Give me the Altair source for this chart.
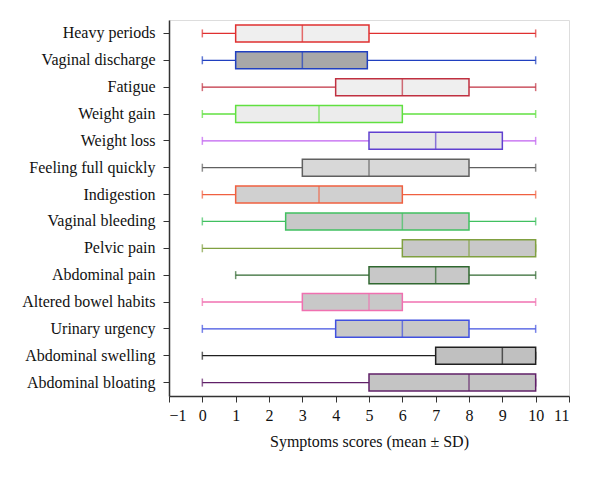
import altair as alt
import pandas as pd

symptoms = ["Heavy periods", "Vaginal discharge", "Fatigue", "Weight gain", "Weight loss",
            "Feeling full quickly", "Indigestion", "Vaginal bleeding", "Pelvic pain",
            "Abdominal pain", "Altered bowel habits", "Urinary urgency",
            "Abdominal swelling", "Abdominal bloating"]
mins = [0, 0, 0, 0, 0, 0, 0, 0, 0, 1, 0, 0, 0, 0]
q1s = [1, 1, 4, 1, 5, 3, 1, 2.5, 6, 5, 3, 4, 7, 5]
medians = [3, 3, 6, 3.5, 7, 5, 3.5, 6, 8, 7, 5, 6, 9, 8]
q3s = [5, 4.95, 8, 6, 9, 8, 6, 8, 10, 8, 6, 8, 10, 10]
maxs = [10, 10, 10, 10, 10, 10, 10, 10, 10, 10, 10, 10, 10, 10]
whisker_colors = ["#e03030", "#2040c0", "#c03040", "#60e040", "#c060f0", "#606060", "#f06040",
                  "#40c060", "#80a040", "#306830", "#f070b0", "#4050e0", "#202020", "#602068"]
box_colors = ["#e03030", "#2040c0", "#c03040", "#60e040", "#6040d0", "#606060", "#f06040",
              "#40c060", "#80a040", "#306830", "#f070b0", "#4050e0", "#202020", "#602068"]
fills = ["#efefef", "#a8a8a8", "#efefef", "#ececec", "#e8e8e8", "#d8d8d8", "#d0d0d0",
         "#c8c8c8", "#c8c8c8", "#c8c8c8", "#c8c8c8", "#c8c8c8", "#c0c0c0", "#c4c4c4"]
x_ticks = list(range(-1, 12))

df = pd.DataFrame({
    "symptom": symptoms, "min": mins, "q1": q1s, "median": medians, "q3": q3s, "max": maxs,
    "wcol": whisker_colors, "bcol": box_colors, "fill": fills,
})

FONT = "Liberation Serif"
y_axis = alt.Axis(title=None, labelFont=FONT, labelFontSize=16, labelColor="#111",
                  domainColor="#333", tickColor="#333", tickSize=6, domainWidth=1.5,
                  labelPadding=8, grid=False)
y_scale = alt.Scale(paddingInner=0, paddingOuter=0)
x_scale = alt.Scale(domain=[-1, 11], nice=False, zero=False)
x_axis = alt.Axis(title="Symptoms scores (mean ± SD)", values=x_ticks, tickCount=30,
                  labelFont=FONT, labelFontSize=16, labelColor="#111", labelOverlap=False,
                  titleFont=FONT, titleFontSize=16, titleFontWeight="normal", titleColor="#111",
                  titlePadding=10, domainColor="#333", tickColor="#333", tickSize=6,
                  domainWidth=1.5, labelPadding=5, grid=False,
                  labelExpr="datum.value < 0 ? '\u2212' + abs(datum.value) : '' + datum.value")


def Y():
    return alt.Y("symptom:N", sort=symptoms, scale=y_scale, axis=y_axis)


def X(field):
    return alt.X(field, scale=x_scale, axis=x_axis, title="Symptoms scores (mean ± SD)")


base = alt.Chart(df)

whisker = base.mark_rule(strokeWidth=1.3).encode(
    x=X("min:Q"), x2="max:Q", y=Y(),
    color=alt.Color("wcol:N", scale=None),
)
cap_min = base.mark_tick(size=8, thickness=1.5).encode(
    x=X("min:Q"), y=Y(), color=alt.Color("wcol:N", scale=None))
cap_max = base.mark_tick(size=8, thickness=1.5).encode(
    x=X("max:Q"), y=Y(), color=alt.Color("wcol:N", scale=None))
box = base.mark_bar(size=17, strokeWidth=1.5).encode(
    x=X("q1:Q"), x2="q3:Q", y=Y(),
    fill=alt.Fill("fill:N", scale=None),
    stroke=alt.Stroke("bcol:N", scale=None),
)
med = base.mark_tick(size=17, thickness=1.5).encode(
    x=X("median:Q"), y=Y(), color=alt.Color("bcol:N", scale=None))

chart = alt.layer(whisker, cap_min, cap_max, box, med).properties(
    width=400, height=376,
    autosize=alt.AutoSizeParams(type="none"),
    padding={"left": 169, "top": 20, "right": 31, "bottom": 83},
).configure_view(stroke=None).configure(background="white")

chart.save("out.html", embed_options={"renderer": "svg", "actions": False})
